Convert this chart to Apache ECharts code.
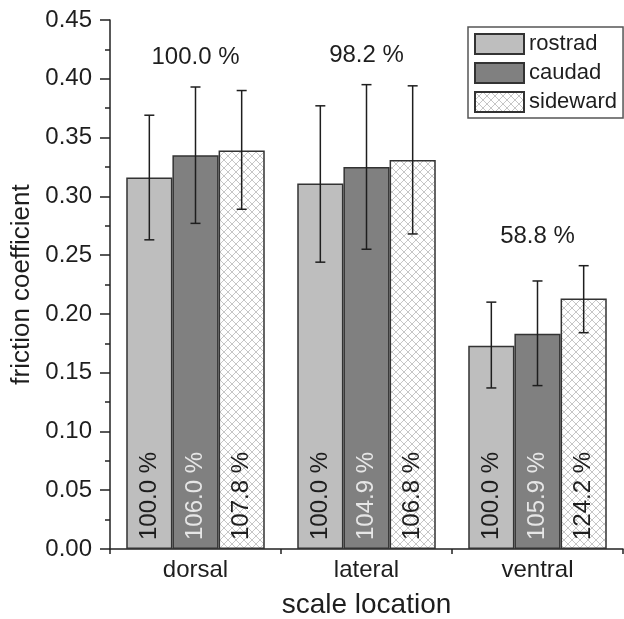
<!DOCTYPE html>
<html>
<head>
    <meta charset="UTF-8"/>
    <title>friction coefficient</title>
    <script src="https://cdn.jsdelivr.net/npm/echarts@6/dist/echarts.min.js"></script>
    <style>
        html, body { margin: 0; padding: 0; background: #fff; }
        #chart { width: 624px; height: 619px; }
    </style>
</head>
<body>
<div id="chart"></div>
<script>
    // data
    var categories = ['dorsal', 'lateral', 'ventral'];
    var rostrad = [0.316, 0.311, 0.173];
    var caudad = [0.335, 0.325, 0.183];
    var sideward = [0.339, 0.331, 0.213];
    var rostradLow = [0.263, 0.244, 0.137];
    var rostradHigh = [0.369, 0.377, 0.210];
    var caudadLow = [0.277, 0.255, 0.139];
    var caudadHigh = [0.393, 0.395, 0.228];
    var sidewardLow = [0.289, 0.268, 0.184];
    var sidewardHigh = [0.390, 0.394, 0.241];
    var groupPct = ['100.0 %', '98.2 %', '58.8 %'];
    var rostradPct = ['100.0 %', '100.0 %', '100.0 %'];
    var caudadPct = ['106.0 %', '104.9 %', '105.9 %'];
    var sidewardPct = ['107.8 %', '106.8 %', '124.2 %'];

    var FONT = 'Liberation Sans, Arial, sans-serif';
    var GAP = 0.19;

    // cross hatch for the sideward bars
    function hatch() {
        var c = document.createElement('canvas');
        c.width = 8; c.height = 8;
        var ctx = c.getContext('2d');
        ctx.fillStyle = '#ffffff';
        ctx.fillRect(0, 0, 8, 8);
        ctx.strokeStyle = '#c6c6c6';
        ctx.lineWidth = 1;
        ctx.beginPath();
        ctx.moveTo(0, 0); ctx.lineTo(8, 8);
        ctx.moveTo(8, 0); ctx.lineTo(0, 8);
        ctx.stroke();
        return c;
    }

    function barLabel(texts, color) {
        return {
            show: true,
            position: 'insideBottom',
            distance: 9,
            rotate: 90,
            align: 'left',
            verticalAlign: 'middle',
            fontSize: 24,
            fontFamily: FONT,
            color: color,
            formatter: function (p) { return texts[p.dataIndex]; }
        };
    }

    function errData(low, high) {
        return categories.map(function (c, i) { return [i, low[i], high[i]]; });
    }

    function errSeries(k, low, high) {
        return {
            type: 'custom',
            z: 5,
            silent: true,
            data: errData(low, high),
            renderItem: function (params, api) {
                var bandW = api.size([1, 0])[0];
                var barW = bandW * (1 - GAP) / 3;
                var top = api.coord([api.value(0), api.value(2)]);
                var bot = api.coord([api.value(0), api.value(1)]);
                var x = top[0] + (k - 1) * barW;
                var cap = 5;
                var st = {stroke: '#1e1e1e', lineWidth: 1.5};
                return {
                    type: 'group',
                    children: [
                        {type: 'line', shape: {x1: x, y1: top[1], x2: x, y2: bot[1]}, style: st},
                        {type: 'line', shape: {x1: x - cap, y1: top[1], x2: x + cap, y2: top[1]}, style: st},
                        {type: 'line', shape: {x1: x - cap, y1: bot[1], x2: x + cap, y2: bot[1]}, style: st}
                    ]
                };
            }
        };
    }

    var groupLabelData = categories.map(function (c, i) {
        return [i, Math.max(rostradHigh[i], caudadHigh[i], sidewardHigh[i]) + 0.025];
    });

    var border = {borderColor: '#333333', borderWidth: 1.5};

    var chart = echarts.init(document.getElementById('chart'));
    var option = {
        animation: false,
        textStyle: {fontFamily: FONT},
        grid: {left: 110, right: 1, top: 20, bottom: 70, outerBoundsMode: 'none'},
        legend: {
            data: ['rostrad', 'caudad', 'sideward'],
            orient: 'vertical',
            left: 468,
            top: 27,
            padding: [6, 6, 5, 6],
            itemWidth: 49,
            itemHeight: 20,
            itemGap: 7,
            icon: 'rect',
            borderColor: '#555555',
            borderWidth: 1.5,
            backgroundColor: '#ffffff',
            textStyle: {fontSize: 22, color: '#1e1e1e', fontFamily: FONT}
        },
        xAxis: {
            type: 'category',
            data: categories,
            name: 'scale location',
            nameLocation: 'middle',
            nameGap: 42,
            nameTextStyle: {fontSize: 28, color: '#1e1e1e', fontFamily: FONT},
            axisLine: {lineStyle: {color: '#222', width: 1.5}},
            axisTick: {show: true, length: 5, lineStyle: {color: '#222', width: 1.5}},
            axisLabel: {fontSize: 24, color: '#1e1e1e', margin: 9, fontFamily: FONT}
        },
        yAxis: {
            type: 'value',
            min: 0,
            max: 0.45,
            interval: 0.05,
            name: 'friction coefficient',
            nameLocation: 'middle',
            nameGap: 73,
            nameTextStyle: {fontSize: 26, color: '#1e1e1e', fontFamily: FONT},
            axisLine: {show: true, lineStyle: {color: '#222', width: 1.5}},
            axisTick: {show: true, length: 10, lineStyle: {color: '#222', width: 1.5}},
            minorTick: {show: true, splitNumber: 2, length: 5, lineStyle: {color: '#222', width: 1.5}},
            splitLine: {show: false},
            axisLabel: {
                fontSize: 24, color: '#1e1e1e', margin: 18, fontFamily: FONT,
                formatter: function (v) { return v.toFixed(2); }
            }
        },
        series: [
            {
                name: 'rostrad', type: 'bar', data: rostrad,
                barGap: '0%', barCategoryGap: (GAP * 100) + '%',
                itemStyle: Object.assign({color: '#bebebe'}, border),
                label: barLabel(rostradPct, '#1e1e1e')
            },
            {
                name: 'caudad', type: 'bar', data: caudad,
                barGap: '0%', barCategoryGap: (GAP * 100) + '%',
                itemStyle: Object.assign({color: '#808080'}, border),
                label: barLabel(caudadPct, '#e6e6e6')
            },
            {
                name: 'sideward', type: 'bar', data: sideward,
                barGap: '0%', barCategoryGap: (GAP * 100) + '%',
                itemStyle: Object.assign({color: {image: hatch(), repeat: 'repeat'}}, border),
                label: barLabel(sidewardPct, '#1e1e1e')
            },
            errSeries(0, rostradLow, rostradHigh),
            errSeries(1, caudadLow, caudadHigh),
            errSeries(2, sidewardLow, sidewardHigh),
            {
                type: 'scatter',
                symbolSize: 0,
                silent: true,
                itemStyle: {opacity: 1},
                data: groupLabelData,
                label: {
                    show: true,
                    position: 'inside',
                    fontSize: 24,
                    color: '#1e1e1e',
                    fontFamily: FONT,
                    formatter: function (p) { return groupPct[p.dataIndex]; }
                }
            }
        ]
    };
    chart.setOption(option);
</script>
</body>
</html>
